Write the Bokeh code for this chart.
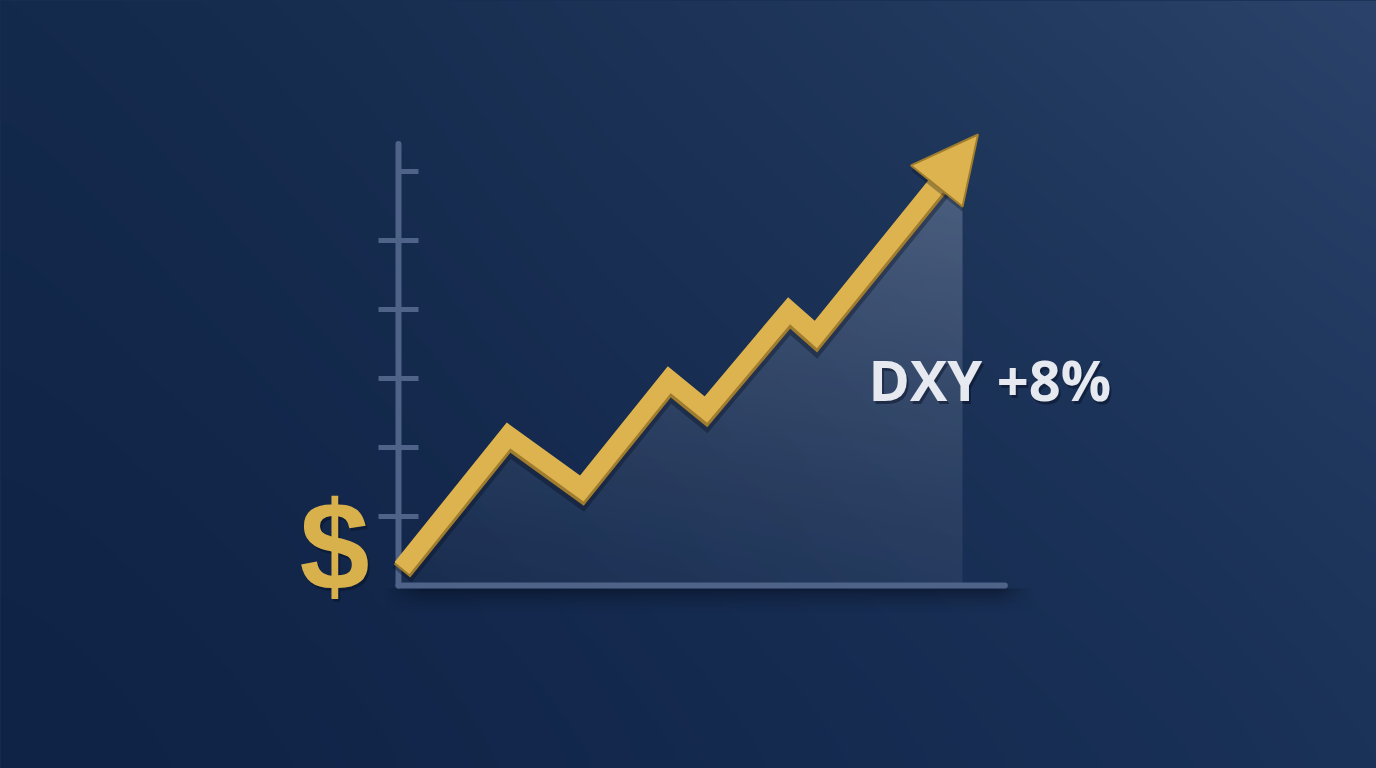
import numpy as np
from bokeh.plotting import figure
from bokeh.models import Range1d, Arrow, NormalHead, ColumnDataSource
from bokeh.transform import dodge
from bokeh.core.properties import value
from bokeh.embed import file_html
from bokeh.resources import INLINE

# ---------------- data ----------------
weeks = [0.25, 7.8, 13.0, 19.2, 21.8, 27.7, 29.6, 38.5]
dxy = [100.3, 102.7, 101.74, 103.71, 103.17, 104.96, 104.53, 107.34]
tip_week = 41.1
tip_dxy = 108.17
fill_end_week = 40.0
fill_end_dxy = 106.92
base_dxy = 100.0
y_ticks = [101.25, 102.5, 103.75, 105.0, 106.25, 107.5]
y_axis_top = 108.0
x_axis_end = 43.0
label_text = "DXY +8%"
currency_text = "$"

# ---------------- layout / style ----------------
W, H = 1376, 768
PX_X = 14.1      # px per week
PX_Y = 55.2      # px per index point
ORIGIN_X = 398   # canvas px of week 0
ORIGIN_Y = 585   # canvas px (from top) of the base level
GOLD = "#dcb34f"
GOLD_EDGE = "#a07d2e"
AXIS = "#4f6388"

x_range = Range1d(-ORIGIN_X / PX_X, (W - ORIGIN_X) / PX_X)
y_range = Range1d(base_dxy - (H - ORIGIN_Y) / PX_Y, base_dxy + ORIGIN_Y / PX_Y)

p = figure(width=W, height=H, x_range=x_range, y_range=y_range,
           x_axis_location=None, y_axis_location=None,
           toolbar_location=None, output_backend="svg", min_border=0)
p.outline_line_color = None
p.background_fill_color = "#1a2f55"
p.border_fill_color = "#1a2f55"
p.grid.visible = False


def rgba_image(r, g, b, a):
    ny, nx = a.shape
    img = np.empty((ny, nx), dtype=np.uint32)
    v = img.view(dtype=np.uint8).reshape((ny, nx, 4))
    v[:, :, 0] = np.clip(r, 0, 255)
    v[:, :, 1] = np.clip(g, 0, 255)
    v[:, :, 2] = np.clip(b, 0, 255)
    v[:, :, 3] = np.clip(a, 0, 255)
    return img


# ---- background gradient (bilinear between corner colours) ----
BL = np.array([15, 35, 70.0])
BR = np.array([27, 50, 89.0])
TL = np.array([20, 42, 76.0])
TR = np.array([43, 67, 106.0])
bnx, bny = W // 2, H // 2
u = (np.arange(bnx) + 0.5) / bnx
vv = (np.arange(bny) + 0.5) / bny
U, V = np.meshgrid(u, vv)
U2 = U ** 1.3
V2 = V ** 1.3
chans = []
for k in range(3):
    c = (BL[k] * (1 - U2) * (1 - V2) + BR[k] * U2 * (1 - V2)
         + TL[k] * (1 - U2) * V2 + TR[k] * U2 * V2)
    chans.append(c)
bg = rgba_image(chans[0], chans[1], chans[2], np.full(U.shape, 255.0))
p.image_rgba(image=[bg], x=x_range.start, y=y_range.start,
             dw=x_range.end - x_range.start, dh=y_range.end - y_range.start)

# ---- translucent area under the line (vertical gradient) ----
fx = np.array(weeks + [fill_end_week])
fy = np.array(dxy + [fill_end_dxy])
fx0, fx1 = weeks[0], fill_end_week
fy0, fy1 = base_dxy, float(fy.max())
fnx = int(round((fx1 - fx0) * PX_X))
fny = int(round((fy1 - fy0) * PX_Y))
xc = fx0 + (np.arange(fnx) + 0.5) * (fx1 - fx0) / fnx
yc = fy0 + (np.arange(fny) + 0.5) * (fy1 - fy0) / fny
top = np.interp(xc, fx, fy)
mask = (yc[:, None] <= top[None, :]).astype(float)
hh = (yc - fy0) / (fy1 - fy0)
xf = (xc - fx0) / (fx1 - fx0)
alpha = (0.035 + 0.16 * hh[:, None] ** 1.2 + 0.035 * xf[None, :]) * mask
fill_img = rgba_image(np.full(mask.shape, 228.0), np.full(mask.shape, 235.0),
                      np.full(mask.shape, 248.0), alpha * 255)
p.image_rgba(image=[fill_img], x=fx0, y=fy0, dw=fx1 - fx0, dh=fy1 - fy0)

# ---- soft shadow under the horizontal axis ----
snx, sny = 160, 30
sx = (np.arange(snx) + 0.5) / snx
sy = (np.arange(sny) + 0.5) / sny       # 0 = bottom (far), 1 = top (near axis)
edge = np.clip(np.minimum(sx, 1 - sx) / 0.06, 0, 1)
sh_alpha = (sy[:, None] ** 1.8) * edge[None, :] * 0.55 * 255
sh = rgba_image(np.full(sh_alpha.shape, 6.0), np.full(sh_alpha.shape, 14.0),
                np.full(sh_alpha.shape, 32.0), sh_alpha)
p.image_rgba(image=[sh], x=-1.0, y=base_dxy - 30 / PX_Y,
             dw=x_axis_end + 3.0, dh=27 / PX_Y)

# ---- axes drawn as glyphs ----
p.segment(x0=[0, 0], y0=[base_dxy, base_dxy], x1=[0, x_axis_end],
          y1=[y_axis_top, base_dxy], line_color=AXIS, line_width=6,
          line_cap="round")
TICK = 20 / PX_X
tick_x0 = [(-TICK if t < max(y_ticks) else 0.0) for t in y_ticks]
tick_x1 = [TICK for t in y_ticks]
p.segment(x0=tick_x0, y0=y_ticks, x1=tick_x1, y1=y_ticks,
          line_color=AXIS, line_width=5)

# ---- gold line with 3D edge ----
src = ColumnDataSource(dict(x=weeks, y=dxy))
p.line("x", dodge("y", -6 / PX_Y, range=p.y_range), source=src,
       line_color="#050c1e", line_alpha=0.35, line_width=24, line_join="miter")
p.line("x", dodge("y", -2 / PX_Y, range=p.y_range), source=src,
       line_color=GOLD_EDGE, line_width=21, line_join="miter")
p.line("x", dodge("y", 1 / PX_Y, range=p.y_range), source=src,
       line_color=GOLD, line_width=19, line_join="miter")

# arrow head
p.add_layout(Arrow(end=NormalHead(size=66, fill_color="#050c1e", fill_alpha=0.3,
                                  line_alpha=0),
                   x_start=weeks[-1], y_start=dxy[-1] - 5 / PX_Y,
                   x_end=tip_week, y_end=tip_dxy - 5 / PX_Y, line_alpha=0))
p.add_layout(Arrow(end=NormalHead(size=66, fill_color=GOLD,
                                  line_color=GOLD_EDGE, line_width=2),
                   x_start=weeks[-1], y_start=dxy[-1],
                   x_end=tip_week, y_end=tip_dxy, line_alpha=0))

# ---- texts ----
label_x = 33.33
label_y = 103.75
p.text(x=[label_x], y=[label_y], text=[label_text], x_offset=2, y_offset=3,
       text_font=value("Open Sans"), text_font_style="bold", text_font_size="56px",
       text_color="#050c1e", text_alpha=0.45, text_baseline="middle",
       text_align="left")
p.text(x=[label_x], y=[label_y], text=[label_text],
       text_font=value("Open Sans"), text_font_style="bold", text_font_size="56px",
       text_color="#e6e9ef", text_baseline="middle", text_align="left")

p.text(x=[0], y=[base_dxy], text=[currency_text], x_offset=-62, y_offset=-36,
       text_font=value("Liberation Sans"), text_font_style="bold",
       text_font_size="126px", text_color="#050c1e", text_alpha=0.4,
       text_baseline="middle", text_align="center")
p.text(x=[0], y=[base_dxy], text=[currency_text], x_offset=-64, y_offset=-39,
       text_font=value("Liberation Sans"), text_font_style="bold",
       text_font_size="126px", text_color="#d9b14c",
       text_baseline="middle", text_align="center")

html = file_html(p, INLINE, title="DXY +8%")
html = html.replace("</head>",
                    "<style>html,body{background:#172c51;overflow:hidden;}</style></head>", 1)
open("out.html", "w").write(html)
